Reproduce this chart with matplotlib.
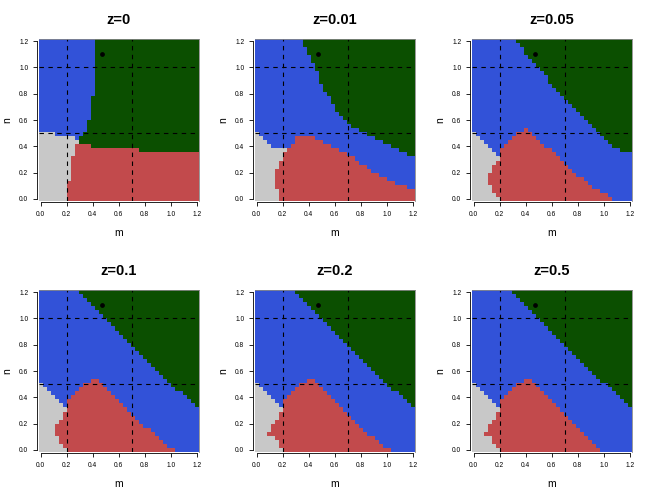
#!/usr/bin/env python3
"""Six outcome maps over (m, n) for increasing z, drawn as 40x40 cell images."""

import numpy as np
import matplotlib
matplotlib.use("Agg")
import matplotlib.pyplot as plt
from matplotlib.colors import ListedColormap

plt.rcParams["font.family"] = ["Liberation Sans", "DejaVu Sans"]

# grid: 40 values of m and n from 0 to 1.2
m_vals = np.linspace(0, 1.2, 40)
n_vals = np.linspace(0, 1.2, 40)

titles = ["z=0", "z=0.01", "z=0.05", "z=0.1", "z=0.2", "z=0.5"]
tick_vals = [0.0, 0.2, 0.4, 0.6, 0.8, 1.0, 1.2]
tick_labels = ["0.0", "0.2", "0.4", "0.6", "0.8", "1.0", "1.2"]
v_lines = [0.2, 0.7]
h_lines = [0.5, 1.0]
point_m, point_n = 0.47, 1.1

# per row of n (row 0 = n 0): number of grey cells from the left,
# first / one-past-last red column, first green column (40 = none)
z0_grey = [7, 7, 7, 7, 7, 8, 8, 8, 8, 8, 8, 9, 9, 9, 10, 9, 4]
z0_red_lo = [7, 7, 7, 7, 7, 8, 8, 8, 8, 8, 8, 9, 9, 9, 0, 0, 0, 0]
z0_red_hi = [40, 40, 40, 40, 40, 40, 40, 40, 40, 40, 40, 40, 25, 13, 0, 0, 0, 0]
z0_green = [40, 40, 40, 40, 40, 40, 40, 40, 40, 40, 40, 40, 25, 13, 10, 10, 11, 12, 12, 12,
            13, 13, 13, 13, 13, 13, 14, 14, 14, 14, 14, 14, 14, 14, 14, 14, 14, 14, 14, 14]

z001_grey = [6, 6, 6, 5, 5, 5, 5, 5, 6, 6, 7, 7, 8, 4, 3, 2, 1]
z001_red_lo = [6, 6, 6, 5, 5, 5, 5, 5, 6, 6, 7, 7, 8, 9, 10, 10, 0, 0]
z001_red_hi = [40, 40, 40, 38, 35, 33, 31, 29, 28, 26, 25, 23, 21, 19, 17, 15, 0, 0]
z001_green = [40, 40, 40, 40, 40, 40, 40, 40, 40, 40, 40, 38, 36, 34, 32, 30, 28, 26, 24, 23,
              22, 21, 20, 20, 19, 19, 18, 17, 17, 16, 16, 16, 15, 15, 14, 14, 13, 13, 12, 12]

z005_grey = [7, 6, 5, 5, 4, 4, 4, 5, 5, 6, 7, 6, 5, 4, 3, 2, 1]
z005_red_lo = [7, 6, 5, 5, 4, 4, 4, 5, 5, 6, 7, 7, 7, 8, 9, 10, 11, 13]
z005_red_hi = [35, 34, 32, 30, 29, 28, 26, 25, 24, 23, 22, 21, 20, 18, 17, 16, 15, 14]
z005_green = [40, 40, 40, 40, 40, 40, 40, 40, 40, 40, 40, 40, 37, 35, 34, 33, 32, 31, 30, 29,
              28, 27, 26, 25, 24, 23, 22, 21, 20, 19, 19, 18, 17, 16, 15, 14, 13, 13, 12, 11]

z01_grey = [7, 6, 5, 5, 4, 4, 4, 5, 6, 6, 7, 6, 5, 4, 3, 2, 1]
z01_red_lo = [7, 6, 5, 5, 4, 4, 4, 5, 6, 6, 7, 7, 7, 8, 9, 10, 11, 13]
z01_red_hi = [34, 32, 31, 30, 29, 28, 26, 25, 24, 23, 22, 21, 20, 19, 18, 17, 16, 15]
z01_green = [40, 40, 40, 40, 40, 40, 40, 40, 40, 40, 40, 39, 38, 37, 36, 34, 33, 32, 31, 30,
             29, 28, 27, 26, 25, 24, 23, 22, 21, 20, 19, 18, 17, 16, 15, 14, 13, 12, 11, 10]

z02_grey = [7, 6, 6, 5, 3, 4, 4, 5, 6, 6, 7, 6, 5, 4, 3, 2, 1]
z02_red_lo = [7, 6, 6, 5, 3, 4, 4, 5, 6, 6, 7, 7, 7, 8, 9, 10, 11, 13]
z02_red_hi = [34, 32, 31, 30, 28, 27, 26, 25, 24, 23, 22, 21, 20, 19, 18, 17, 16, 15]
z02_green = [40, 40, 40, 40, 40, 40, 40, 40, 40, 40, 40, 39, 38, 37, 36, 34, 33, 32, 31, 30,
             29, 28, 27, 26, 25, 24, 23, 22, 21, 20, 19, 18, 17, 16, 15, 14, 13, 12, 11, 10]

z05_grey = [7, 6, 5, 5, 3, 4, 4, 5, 6, 6, 7, 6, 5, 4, 3, 2, 1]
z05_red_lo = [7, 6, 5, 5, 3, 4, 4, 5, 6, 6, 7, 7, 7, 8, 9, 10, 11, 13]
z05_red_hi = [32, 31, 30, 29, 28, 27, 26, 25, 24, 23, 22, 21, 20, 19, 18, 17, 16, 15]
z05_green = [40, 40, 40, 40, 40, 40, 40, 40, 40, 40, 40, 39, 38, 37, 36, 35, 34, 32, 31, 30,
             29, 28, 27, 26, 25, 24, 23, 22, 21, 20, 19, 18, 17, 16, 15, 14, 13, 12, 11, 10]

panels = [
    (z0_grey, z0_red_lo, z0_red_hi, z0_green),
    (z001_grey, z001_red_lo, z001_red_hi, z001_green),
    (z005_grey, z005_red_lo, z005_red_hi, z005_green),
    (z01_grey, z01_red_lo, z01_red_hi, z01_green),
    (z02_grey, z02_red_lo, z02_red_hi, z02_green),
    (z05_grey, z05_red_lo, z05_red_hi, z05_green),
]

GREY, RED, BLUE, GREEN = 0, 1, 2, 3
cmap = ListedColormap(["#C8C8C8", "#C24A4C", "#3252D8", "#0B4F00"])


def build_grid(grey, red_lo, red_hi, green):
    """Turn the per-row run lengths into a (n, m) grid of outcome codes."""
    grid = np.full((len(n_vals), len(m_vals)), BLUE)
    for i in range(len(n_vals)):
        if i < len(grey):
            grid[i, :grey[i]] = GREY
        if i < len(red_lo):
            grid[i, red_lo[i]:red_hi[i]] = RED
        grid[i, green[i]:] = GREEN
    return grid


def cell_edges(vals):
    step = vals[1] - vals[0]
    return np.concatenate([vals - step / 2, [vals[-1] + step / 2]])


m_edges = cell_edges(m_vals)
n_edges = cell_edges(n_vals)

fig = plt.figure(figsize=(6.5, 5), dpi=100)

lefts = [0.0595, 0.3918, 0.7257]
bottoms = [0.598, 0.096]
width, height = 0.2462, 0.324

for k, (title, data) in enumerate(zip(titles, panels)):
    ax = fig.add_axes([lefts[k % 3], bottoms[k // 3], width, height])
    grid = build_grid(*data)
    ax.pcolormesh(m_edges, n_edges, grid, cmap=cmap, vmin=-0.5, vmax=3.5)

    for v in v_lines:
        ax.axvline(v, color="black", lw=0.8, ls=(0, (4, 4)))
    for h in h_lines:
        ax.axhline(h, color="black", lw=0.8, ls=(0, (4, 4)))
    ax.plot(point_m, point_n, "o", color="black", ms=2.4)

    ax.set_xlim(m_edges[0], m_edges[-1])
    ax.set_ylim(n_edges[0], n_edges[-1])
    ax.set_xticks(tick_vals)
    ax.set_xticklabels(tick_labels)
    ax.set_yticks(tick_vals)
    ax.set_yticklabels(tick_labels, rotation=90, va="center")
    ax.tick_params(length=3, width=0.6, labelsize=4.8, pad=3.5)

    for side in ["top", "right", "left", "bottom"]:
        ax.spines[side].set_color("#888888")
        ax.spines[side].set_linewidth(0.6)
    for side in ["left", "bottom"]:
        ax.spines[side].set_color("black")
        ax.spines[side].set_bounds(0, 1.2)
        ax.spines[side].set_position(("outward", 1))

    ax.set_xlabel("m", fontsize=7.5, labelpad=7)
    ax.set_ylabel("n", fontsize=7.5, labelpad=5)
    ax.set_title(title, fontsize=10.5, fontweight="bold", pad=11)

fig.savefig("out.png", dpi=100)
